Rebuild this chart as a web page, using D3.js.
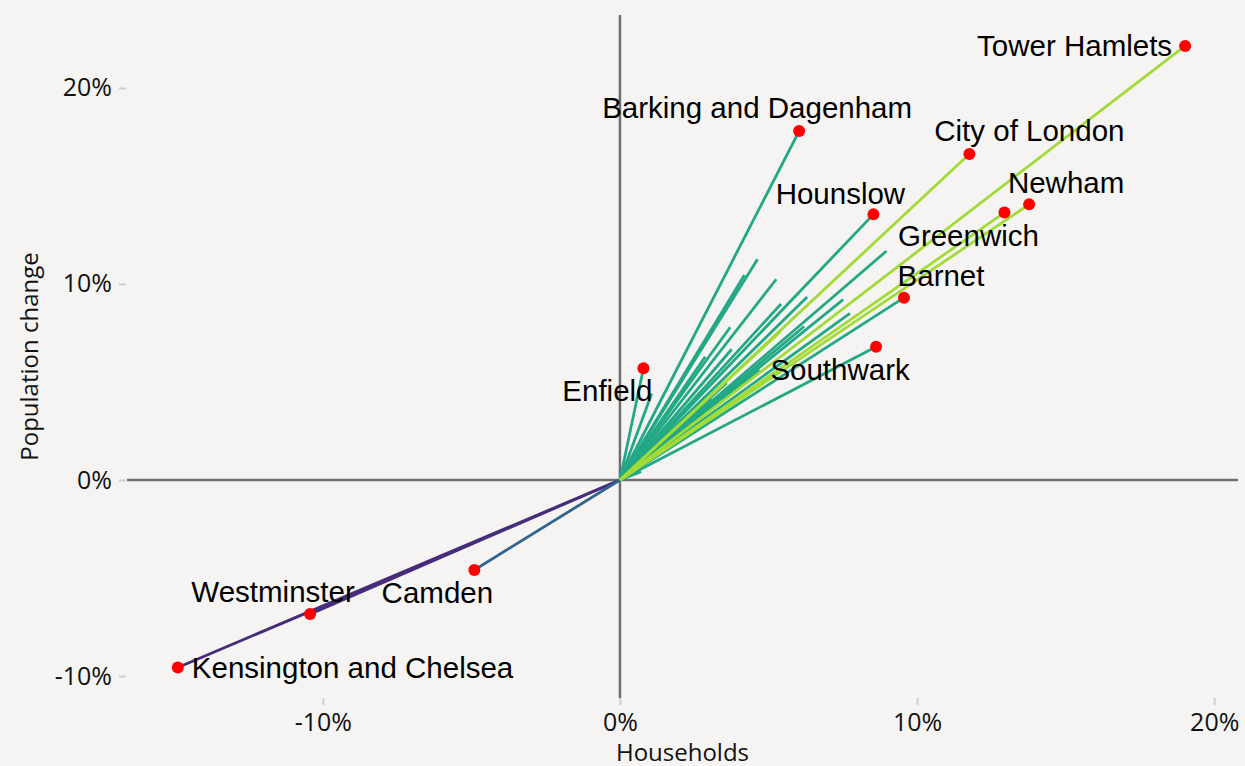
<!DOCTYPE html>
<html>
<head>
<meta charset="utf-8">
<script src="https://cdn.jsdelivr.net/npm/d3@7"></script>
<style>
  html, body { margin: 0; padding: 0; background: #f5f4f2; }
  svg { display: block; }
</style>
</head>
<body>
<svg id="chart" width="1245" height="766"></svg>
<script>
// ---- data (percent change) ----
// Unlabelled boroughs are not named in the source picture; names here are placeholders.
const boroughs = [
  "Tower Hamlets", "Barking and Dagenham", "City of London", "Hounslow", "Newham",
  "Greenwich", "Barnet", "Southwark", "Enfield", "Camden", "Westminster",
  "Kensington and Chelsea",
  "Bexley", "Brent", "Bromley", "Croydon", "Ealing", "Hackney", "Hammersmith and Fulham",
  "Haringey", "Harrow", "Havering", "Hillingdon", "Islington", "Kingston upon Thames",
  "Lambeth", "Lewisham", "Merton", "Redbridge", "Richmond upon Thames", "Sutton",
  "Waltham Forest", "Wandsworth"
];
const households = [
  19.02, 6.03, 11.76, 8.53, 13.77, 12.94, 9.56, 8.62, 0.79, -4.90, -10.43, -14.88,
  4.63, 4.19, 5.26, 8.97, 6.30, 7.51, 5.42, 7.74, 6.20, 3.71, 2.87, 5.41, 1.07,
  0.71, 3.59, 3.76, 2.5, 3.1, 4.1, 1.6, 4.7
];
const population = [
  22.14, 17.80, 16.63, 13.55, 14.06, 13.64, 9.30, 6.80, 5.70, -4.59, -6.84, -9.56,
  11.26, 10.46, 10.24, 11.68, 9.33, 9.20, 8.98, 8.50, 7.83, 7.79, 6.29, 7.59, 4.41,
  0.42, 4.95, 6.67, 3.3, 4.1, 5.2, 2.7, 5.6
];
// colour variable (mapped through viridis)
const colourValue = [
  0.86, 0.6, 0.86, 0.6, 0.86, 0.86, 0.6, 0.6, 0.6, 0.32, 0.13, 0.12,
  0.6, 0.6, 0.6, 0.6, 0.6, 0.6, 0.6, 0.6, 0.6, 0.6, 0.6, 0.86, 0.6,
  0.6, 0.6, 0.6, 0.6, 0.6, 0.6, 0.6, 0.6
];
const labelled = [
  "Tower Hamlets", "Barking and Dagenham", "City of London", "Hounslow", "Newham",
  "Greenwich", "Barnet", "Southwark", "Enfield", "Camden", "Westminster",
  "Kensington and Chelsea"
];
const xTicks = [-10, 0, 10, 20];
const yTicks = [-10, 0, 10, 20];
const xTitle = "Households";
const yTitle = "Population change";

// ---- label placement (pixel offsets from the point; layout only) ----
const labelPlacement = {
  "Tower Hamlets":          { dx: -13, dy: 10,  anchor: "end" },
  "Barking and Dagenham":   { dx: -42, dy: -13, anchor: "middle" },
  "City of London":         { dx: 60,  dy: -13, anchor: "middle" },
  "Hounslow":               { dx: -33, dy: -10, anchor: "middle" },
  "Newham":                 { dx: 37,  dy: -11, anchor: "middle" },
  "Greenwich":              { dx: -36, dy: 33,  anchor: "middle" },
  "Barnet":                 { dx: 37,  dy: -12, anchor: "middle" },
  "Southwark":              { dx: -36, dy: 33,  anchor: "middle" },
  "Enfield":                { dx: -36, dy: 33,  anchor: "middle" },
  "Camden":                 { dx: -37, dy: 33,  anchor: "middle" },
  "Westminster":            { dx: -37, dy: -12, anchor: "middle" },
  "Kensington and Chelsea": { dx: 14,  dy: 11,  anchor: "start" }
};

const rows = boroughs.map((b, i) => ({
  name: b, hh: households[i], pop: population[i], c: colourValue[i]
}));

// ---- layout ----
const panel = { left: 127, right: 1238, top: 15, bottom: 698 };
const x = d3.scaleLinear().domain([-16.59, 20.8]).range([panel.left, panel.right]);
const y = d3.scaleLinear().domain([-11.12, 23.72]).range([panel.bottom, panel.top]);
const colour = v => d3.interpolateViridis(v);

const svg = d3.select("#chart");
svg.append("rect").attr("width", 1245).attr("height", 766).attr("fill", "#f5f4f2");

const tickFont = "'Open Sans', 'Noto Sans', sans-serif";

// axes (ticks only, no domain line)
const xAxis = d3.axisBottom(x).tickValues(xTicks).tickFormat(d => d + "%").tickSize(7).tickPadding(8);
const gx = svg.append("g").attr("transform", `translate(0,${panel.bottom})`).call(xAxis);
const yAxis = d3.axisLeft(y).tickValues(yTicks).tickFormat(d => d + "%").tickSize(7).tickPadding(7);
const gy = svg.append("g").attr("transform", `translate(${panel.left - 1},0)`).call(yAxis);
[gx, gy].forEach(g => {
  g.select(".domain").remove();
  g.selectAll(".tick line").attr("stroke", "#cfcfcf").attr("stroke-width", 2);
  g.selectAll(".tick text").attr("fill", "#111").style("font-family", tickFont).style("font-size", "25px");
});

// zero lines
svg.append("line")
  .attr("x1", panel.left).attr("x2", panel.right)
  .attr("y1", y(0)).attr("y2", y(0))
  .attr("stroke", "#6e6e6e").attr("stroke-width", 2.5);
svg.append("line")
  .attr("x1", x(0)).attr("x2", x(0))
  .attr("y1", panel.top).attr("y2", panel.bottom)
  .attr("stroke", "#6e6e6e").attr("stroke-width", 2.5);

// segments from origin
const ordered = rows.slice().sort((a, b) => a.c - b.c);
svg.append("g").selectAll("line").data(ordered).join("line")
  .attr("x1", x(0)).attr("y1", y(0))
  .attr("x2", d => x(d.hh)).attr("y2", d => y(d.pop))
  .attr("stroke", d => colour(d.c))
  .attr("stroke-width", 2.8)
  .attr("stroke-linecap", "butt");

// labelled points
const lab = rows.filter(d => labelled.includes(d.name));
svg.append("g").selectAll("circle").data(lab).join("circle")
  .attr("cx", d => x(d.hh)).attr("cy", d => y(d.pop)).attr("r", 6)
  .attr("fill", "#ff0000");

svg.append("g").selectAll("text").data(lab).join("text")
  .attr("x", d => x(d.hh) + labelPlacement[d.name].dx)
  .attr("y", d => y(d.pop) + labelPlacement[d.name].dy)
  .attr("text-anchor", d => labelPlacement[d.name].anchor)
  .style("font-family", "'Liberation Sans', Arial, sans-serif")
  .style("font-size", "29.5px")
  .attr("fill", "#000")
  .text(d => d.name);

// axis titles
svg.append("text")
  .attr("x", (panel.left + panel.right) / 2).attr("y", 761)
  .attr("text-anchor", "middle")
  .style("font-family", tickFont).style("font-size", "24px").attr("fill", "#111")
  .text(xTitle);
svg.append("text")
  .attr("transform", `translate(38,${(panel.top + panel.bottom) / 2}) rotate(-90)`)
  .attr("text-anchor", "middle")
  .style("font-family", tickFont).style("font-size", "24px").attr("fill", "#111")
  .text(yTitle);
</script>
</body>
</html>
